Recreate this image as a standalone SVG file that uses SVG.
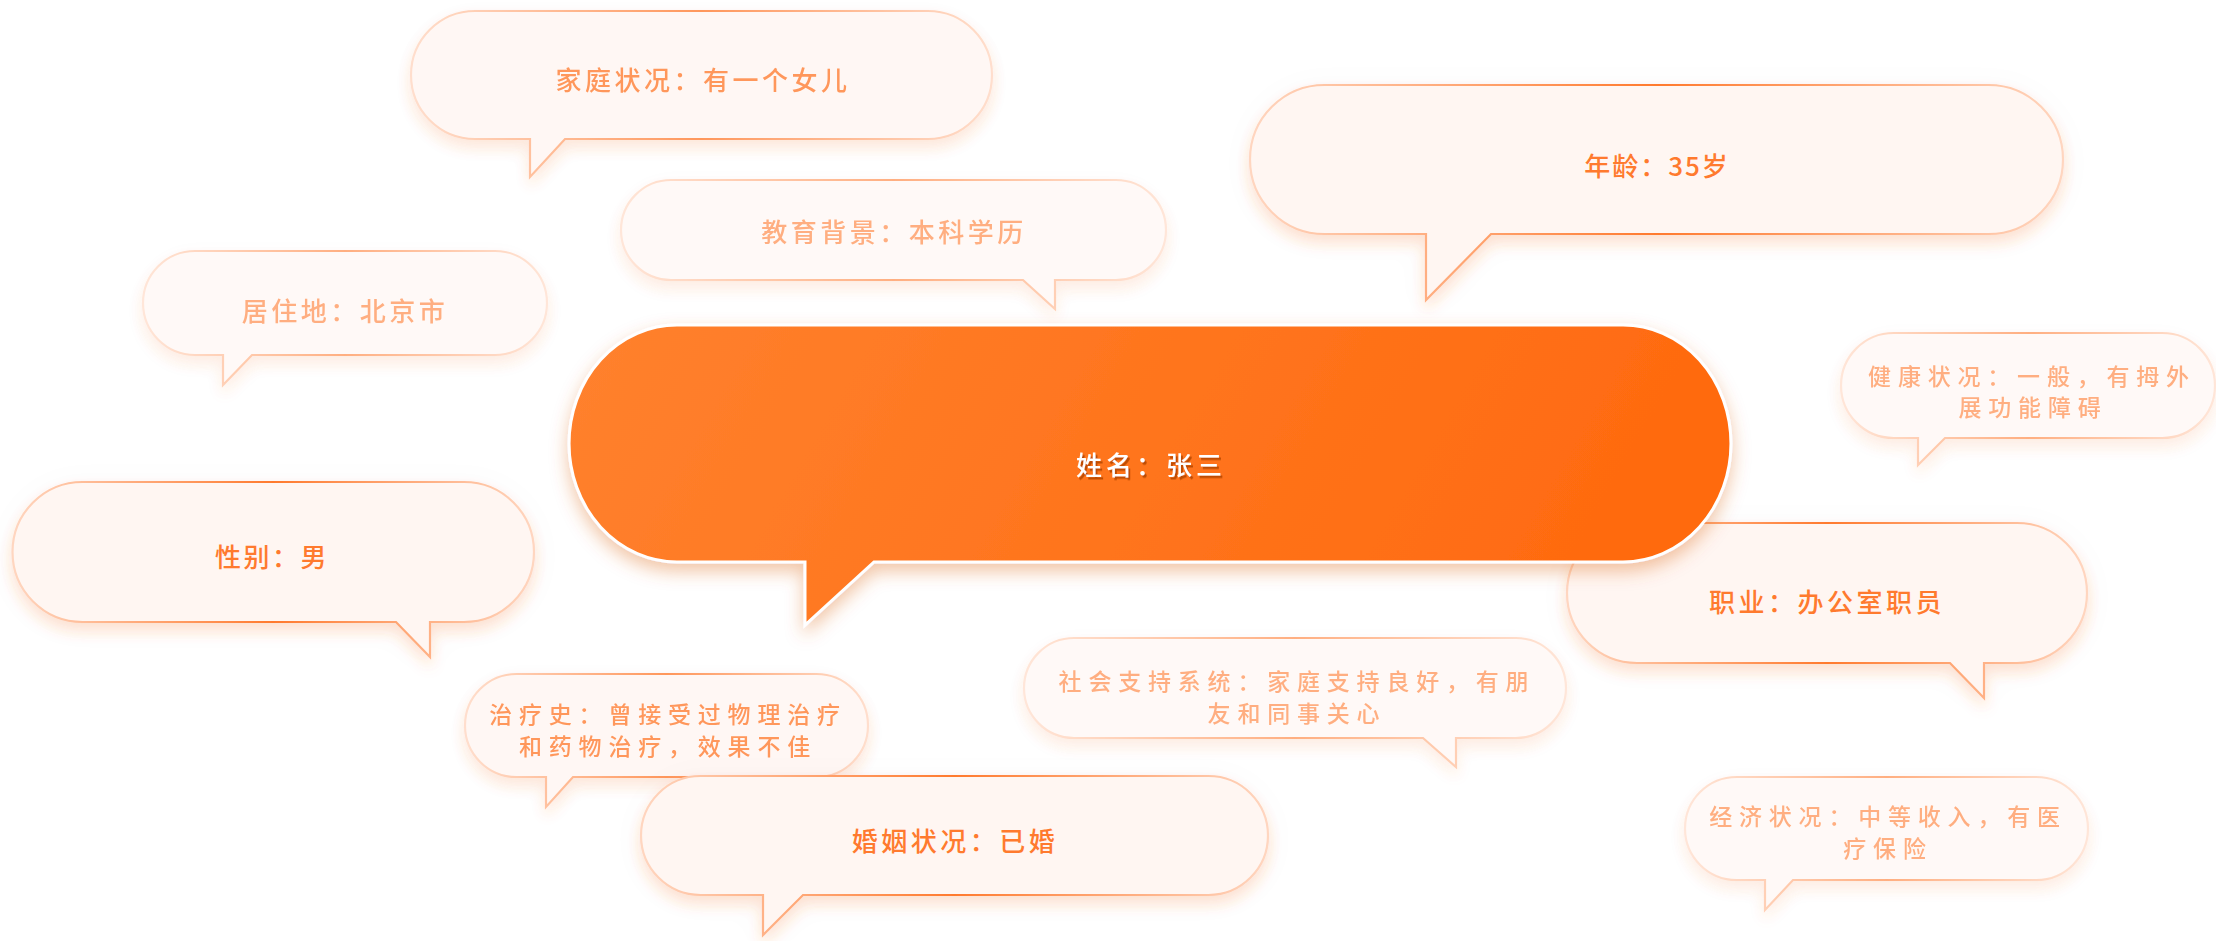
<svg xmlns="http://www.w3.org/2000/svg" width="2216" height="941" viewBox="0 0 2216 941">
<defs>
<linearGradient id="edge" x1="0" y1="0" x2="1" y2="0">
<stop offset="0" stop-color="#ffd6c0"/>
<stop offset="0.5" stop-color="#ff7a2e"/>
<stop offset="1" stop-color="#ffd6c0"/>
</linearGradient>
<linearGradient id="core" x1="0" y1="0" x2="1" y2="0.15">
<stop offset="0" stop-color="#ff812e"/>
<stop offset="1" stop-color="#ff6a0f"/>
</linearGradient>
<filter id="glow" x="-20%" y="-30%" width="140%" height="170%">
<feDropShadow dx="0" dy="4" stdDeviation="14" flood-color="#000000" flood-opacity="0.03"/>
<feDropShadow dx="0" dy="8" stdDeviation="7" flood-color="#ff8a4a" flood-opacity="0.22"/>
</filter>
<filter id="coreglow" x="-20%" y="-30%" width="140%" height="170%">
<feDropShadow dx="0" dy="8" stdDeviation="9" flood-color="#d85a10" flood-opacity="0.35"/>
</filter>
<filter id="tshadow" x="-10%" y="-20%" width="120%" height="150%">
<feDropShadow dx="2" dy="2.5" stdDeviation="0.4" flood-color="#b84a06" flood-opacity="0.9"/>
</filter>
</defs>
<style>
.b{fill:#fff6f2;stroke:url(#edge);stroke-width:2.2;filter:url(#glow)}
.t{font-family:"Noto Sans CJK SC","Noto Sans",sans-serif;fill:#ff7a2e;text-anchor:middle;dominant-baseline:central;font-weight:500}
.s{font-size:26px;letter-spacing:3.5px}
.m{font-size:23px;letter-spacing:6.8px}
.e2{opacity:0.78}
.e3{opacity:0.6}
.core{fill:url(#core);stroke:#ffffff;stroke-width:3;filter:url(#coreglow)}
.ct{font-family:"Noto Sans CJK SC","Noto Sans",sans-serif;font-size:26px;letter-spacing:4px;text-anchor:middle;dominant-baseline:central;font-weight:500;fill:#ffffff;filter:url(#tshadow)}
</style>
<g id="connectors"/>
<g id="node-family" class="e2">
<path class="b" d="M475,11 H928 A64,64 0 0 1 928,139 H565 L530,177 L530,139 H475 A64,64 0 0 1 475,11 Z"/>
<text class="t s" x="703" y="78">家庭状况：有一个女儿</text>
</g>
<g id="node-age">
<path class="b" d="M1324.5,85 H1988.5 A74.5,74.5 0 0 1 1988.5,234 H1491 L1426,300 L1426,234 H1324.5 A74.5,74.5 0 0 1 1324.5,85 Z"/>
<text class="t s" x="1657" y="164" style="letter-spacing:2px">年龄：35岁</text>
</g>
<g id="node-education" class="e3">
<path class="b" d="M671,180 H1116 A50,50 0 0 1 1116,280 H1055 L1055,309 L1023,280 H671 A50,50 0 0 1 671,180 Z"/>
<text class="t s" x="894" y="230">教育背景：本科学历</text>
</g>
<g id="node-residence" class="e3">
<path class="b" d="M195,251 H495 A52,52 0 0 1 495,355 H252 L223,385 L223,355 H195 A52,52 0 0 1 195,251 Z"/>
<text class="t s" x="345" y="309">居住地：北京市</text>
</g>
<g id="node-health" class="e3">
<path class="b" d="M1893.5,333 H2162.5 A52.5,52.5 0 0 1 2162.5,438 H1945 L1918,465 L1918,438 H1893.5 A52.5,52.5 0 0 1 1893.5,333 Z"/>
<text class="t m" x="2032" y="375">健康状况：一般，有拇外</text>
<text class="t m" x="2033" y="406">展功能障碍</text>
</g>
<g id="node-gender">
<path class="b" d="M82.5,482 H464 A70,70 0 0 1 464,622 H430 L430,657 L396,622 H82.5 A70,70 0 0 1 82.5,482 Z"/>
<text class="t s" x="272" y="555" style="letter-spacing:2.5px">性别：男</text>
</g>
<g id="node-job">
<path class="b" d="M1637,523 H2017 A70,70 0 0 1 2017,663 H1984 L1984,698 L1950,663 H1637 A70,70 0 0 1 1637,523 Z"/>
<text class="t s" x="1827" y="600">职业：办公室职员</text>
</g>
<g id="node-name">
<path class="core" d="M677,325 H1623 A108,118.5 0 0 1 1623,562 H874 L805,625 L805,562 H677 A108,118.5 0 0 1 677,325 Z"/>
<text class="ct" x="1151" y="463">姓名：张三</text>
</g>
<g id="node-treatment" class="e2">
<path class="b" d="M516.5,674 H816.5 A51.5,51.5 0 0 1 816.5,777 H573 L546,807 L546,777 H516.5 A51.5,51.5 0 0 1 516.5,674 Z"/>
<text class="t m" x="668" y="713">治疗史：曾接受过物理治疗</text>
<text class="t m" x="668" y="745">和药物治疗，效果不佳</text>
</g>
<g id="node-marriage">
<path class="b" d="M700.5,776 H1208.5 A59.5,59.5 0 0 1 1208.5,895 H803 L763,935 L763,895 H700.5 A59.5,59.5 0 0 1 700.5,776 Z"/>
<text class="t s" x="955" y="839">婚姻状况：已婚</text>
</g>
<g id="node-social" class="e3">
<path class="b" d="M1074,638 H1516 A50,50 0 0 1 1516,738 H1456 L1456,767 L1423,738 H1074 A50,50 0 0 1 1074,638 Z"/>
<text class="t m" x="1297" y="680">社会支持系统：家庭支持良好，有朋</text>
<text class="t m" x="1297" y="712">友和同事关心</text>
</g>
<g id="node-economy" class="e3">
<path class="b" d="M1736.5,777 H2036.5 A51.5,51.5 0 0 1 2036.5,880 H1793 L1765,910 L1765,880 H1736.5 A51.5,51.5 0 0 1 1736.5,777 Z"/>
<text class="t m" x="1888" y="815">经济状况：中等收入，有医</text>
<text class="t m" x="1888" y="847">疗保险</text>
</g>
</svg>
